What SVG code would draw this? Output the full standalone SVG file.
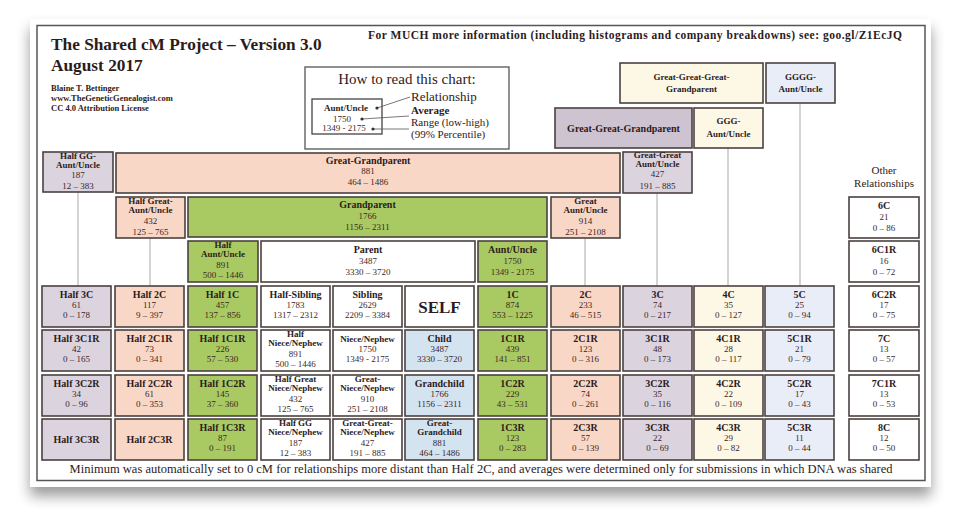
<svg xmlns="http://www.w3.org/2000/svg" width="959" height="524" viewBox="0 0 959 524">
<defs>
<filter id="sh" x="-5%" y="-5%" width="110%" height="125%">
<feGaussianBlur in="SourceAlpha" stdDeviation="7"/>
<feOffset dy="9"/>
<feComponentTransfer><feFuncA type="linear" slope="0.4"/></feComponentTransfer>
<feMerge><feMergeNode/><feMergeNode in="SourceGraphic"/></feMerge>
</filter>
<marker id="dot" markerWidth="4" markerHeight="4" refX="2" refY="2" markerUnits="userSpaceOnUse"><circle cx="2" cy="2" r="1.6" fill="#333"/></marker>
</defs>
<style>
.bx{stroke:#4b4040;stroke-width:1.6}
.lav{fill:#dbd4df}.sal{fill:#f8d7c7}.grn{fill:#a9ca62}.wht{fill:#fff}.blu{fill:#d4e3f0}.crm{fill:#fdf8e6}.ice{fill:#e9edf7}.ggp{fill:#cec4d1}
text{font-family:"Liberation Serif","Times New Roman",serif;text-anchor:middle;fill:#2d1b1b}
.st{text-anchor:start}
.l{font-size:10px;font-weight:bold}
.s{font-size:9px;font-weight:bold}
.n{font-size:9px;fill:#3e1f1f}
.cn line{stroke:#a8a8a8;stroke-width:1}
.lg line{stroke:#555;stroke-width:0.8}
</style>
<rect width="959" height="524" fill="#fff"/>
<rect x="30" y="19" width="901" height="468" fill="#fff" filter="url(#sh)"/>
<rect x="37" y="25.5" width="888" height="455" fill="none" stroke="#555" stroke-width="1.5"/>

<g id="title">
<text class="st" x="51" y="50" font-size="17.3" font-weight="bold">The Shared cM Project – Version 3.0</text>
<text class="st" x="51" y="71" font-size="17.3" font-weight="bold">August 2017</text>
<text class="st" x="51" y="91" font-size="8.5" font-weight="bold">Blaine T. Bettinger</text>
<text class="st" x="51" y="101" font-size="8.5" font-weight="bold">www.TheGeneticGenealogist.com</text>
<text class="st" x="51" y="111" font-size="8.5" font-weight="bold">CC 4.0 Attribution License</text>
<text class="st" x="368" y="39" font-size="11.5" font-weight="bold" textLength="534">For MUCH more information (including histograms and company breakdowns) see: goo.gl/Z1EcJQ</text>
</g>

<g id="legend">
<rect x="305" y="67" width="204" height="82" fill="#fff" stroke="#555" stroke-width="1.3"/>
<text x="407" y="84" font-size="15">How to read this chart:</text>
<rect x="312" y="99" width="70" height="35" fill="#fff" stroke="#444" stroke-width="1.3"/>
<text class="s" x="346" y="111">Aunt/Uncle</text>
<text class="n" x="342" y="122">1750</text>
<text class="n" x="344" y="131">1349 - 2175</text>
<g class="lg">
<line x1="377" y1="108" x2="410" y2="97" marker-start="url(#dot)"/>
<line x1="362" y1="119" x2="409" y2="116" marker-start="url(#dot)"/>
<line x1="373" y1="129" x2="409" y2="129" marker-start="url(#dot)"/>
</g>
<text class="st" x="411" y="101" font-size="13">Relationship</text>
<text class="st" x="411" y="114" font-size="11" font-weight="bold">Average</text>
<text class="st" x="411" y="126" font-size="11">Range (low-high)</text>
<text class="st" x="411" y="138" font-size="11">(99% Percentile)</text>
</g>

<g id="connectors" class="cn">
<line x1="78" y1="192" x2="78" y2="286"/>
<line x1="150" y1="238" x2="150" y2="286"/>
<line x1="585" y1="238" x2="585" y2="286"/>
<line x1="657" y1="193" x2="657" y2="286"/>
<line x1="728" y1="148" x2="728" y2="286"/>
<line x1="800" y1="103" x2="800" y2="286"/>
</g>

<g id="gggg-grandparent"><rect class="bx crm" x="620" y="63" width="143" height="40"/><text class="s" x="691.5" y="80" font-size="9.5">Great-Great-Great-</text><text class="s" x="691.5" y="92" font-size="9.5">Grandparent</text></g>
<g id="gggg-aunt"><rect class="bx ice" x="766" y="63" width="69" height="40"/><text class="s" x="800.5" y="80" font-size="9.5">GGGG-</text><text class="s" x="800.5" y="92" font-size="9.5">Aunt/Uncle</text></g>
<g id="ggg-grandparent"><rect class="bx ggp" x="555" y="108" width="137" height="40"/><text class="l" x="623.5" y="132" font-size="10.5">Great-Great-Grandparent</text></g>
<g id="ggg-aunt"><rect class="bx crm" x="694" y="108" width="69" height="40"/><text class="s" x="728.5" y="124" font-size="9.5">GGG-</text><text class="s" x="728.5" y="137" font-size="9.5">Aunt/Uncle</text></g>

<g id="half-gg-aunt"><rect class="bx lav" x="43" y="152" width="70" height="40"/><text class="s" x="78" y="159">Half GG-</text><text class="s" x="78" y="168">Aunt/Uncle</text><text class="n" x="78" y="178">187</text><text class="n" x="78" y="189">12 – 383</text></g>
<g id="great-grandparent"><rect class="bx sal" x="116" y="153" width="504" height="40"/><text class="l" x="368" y="164">Great-Grandparent</text><text class="n" x="368" y="174">881</text><text class="n" x="368" y="185">464 – 1486</text></g>
<g id="gg-aunt"><rect class="bx lav" x="623" y="152" width="69" height="41"/><text class="s" x="657.5" y="158">Great-Great</text><text class="s" x="657.5" y="167">Aunt/Uncle</text><text class="n" x="657.5" y="177">427</text><text class="n" x="657.5" y="189">191 – 885</text></g>

<g id="half-great-aunt"><rect class="bx sal" x="116" y="197" width="69" height="41"/><text class="s" x="150.5" y="204">Half Great-</text><text class="s" x="150.5" y="213">Aunt/Uncle</text><text class="n" x="150.5" y="224">432</text><text class="n" x="150.5" y="235">125 – 765</text></g>
<g id="grandparent"><rect class="bx grn" x="188" y="197" width="359" height="40"/><text class="l" x="367.5" y="208">Grandparent</text><text class="n" x="367.5" y="219">1766</text><text class="n" x="367.5" y="230">1156 – 2311</text></g>
<g id="great-aunt"><rect class="bx sal" x="551" y="197" width="69" height="41"/><text class="s" x="585.5" y="204">Great</text><text class="s" x="585.5" y="213">Aunt/Uncle</text><text class="n" x="585.5" y="224">914</text><text class="n" x="585.5" y="235">251 – 2108</text></g>

<g id="half-aunt"><rect class="bx grn" x="188" y="241" width="70" height="41"/><text class="s" x="223" y="248">Half</text><text class="s" x="223" y="257">Aunt/Uncle</text><text class="n" x="223" y="268">891</text><text class="n" x="223" y="278">500 – 1446</text></g>
<g id="parent"><rect class="bx wht" x="261" y="241" width="214" height="41"/><text class="l" x="368" y="253">Parent</text><text class="n" x="368" y="264">3487</text><text class="n" x="368" y="275">3330 – 3720</text></g>
<g id="aunt"><rect class="bx grn" x="478" y="241" width="69" height="41"/><text class="l" x="512.5" y="253">Aunt/Uncle</text><text class="n" x="512.5" y="264">1750</text><text class="n" x="512.5" y="275">1349 - 2175</text></g>

<g id="other-header"><text x="884" y="174" font-size="11">Other</text><text x="884" y="187" font-size="11">Relationships</text></g>
<g id="c6"><rect class="bx wht" x="849" y="197" width="70" height="41"/><text class="l" x="884" y="209">6C</text><text class="n" x="884" y="220">21</text><text class="n" x="884" y="231">0 – 86</text></g>
<g id="c6r1"><rect class="bx wht" x="849" y="241" width="70" height="41"/><text class="l" x="884" y="253">6C1R</text><text class="n" x="884" y="264">16</text><text class="n" x="884" y="275">0 – 72</text></g>

<g id="half3c"><rect class="bx lav" x="42" y="286" width="69" height="41"/><text class="l" x="76.5" y="298">Half 3C</text><text class="n" x="76.5" y="308">61</text><text class="n" x="76.5" y="318">0 – 178</text></g>
<g id="half2c"><rect class="bx sal" x="115" y="286" width="69" height="41"/><text class="l" x="149.5" y="298">Half 2C</text><text class="n" x="149.5" y="308">117</text><text class="n" x="149.5" y="318">9 – 397</text></g>
<g id="half1c"><rect class="bx grn" x="188" y="286" width="69" height="41"/><text class="l" x="222.5" y="298">Half 1C</text><text class="n" x="222.5" y="308">457</text><text class="n" x="222.5" y="318">137 – 856</text></g>
<g id="half-sibling"><rect class="bx wht" x="261" y="286" width="69" height="41"/><text class="l" x="295.5" y="298">Half-Sibling</text><text class="n" x="295.5" y="308">1783</text><text class="n" x="295.5" y="318">1317 – 2312</text></g>
<g id="sibling"><rect class="bx wht" x="333" y="286" width="69" height="41"/><text class="l" x="367.5" y="298">Sibling</text><text class="n" x="367.5" y="308">2629</text><text class="n" x="367.5" y="318">2209 – 3384</text></g>
<g id="self"><rect class="bx wht" x="405" y="286" width="69" height="41"/><text x="439.5" y="313" font-family="Liberation Sans, Arial, sans-serif" font-size="17" font-weight="bold" fill="#111">SELF</text></g>
<g id="c1"><rect class="bx grn" x="478" y="286" width="69" height="41"/><text class="l" x="512.5" y="298">1C</text><text class="n" x="512.5" y="308">874</text><text class="n" x="512.5" y="318">553 – 1225</text></g>
<g id="c2"><rect class="bx sal" x="551" y="286" width="69" height="41"/><text class="l" x="585.5" y="298">2C</text><text class="n" x="585.5" y="308">233</text><text class="n" x="585.5" y="318">46 – 515</text></g>
<g id="c3"><rect class="bx lav" x="623" y="286" width="69" height="41"/><text class="l" x="657.5" y="298">3C</text><text class="n" x="657.5" y="308">74</text><text class="n" x="657.5" y="318">0 – 217</text></g>
<g id="c4"><rect class="bx crm" x="694" y="286" width="69" height="41"/><text class="l" x="728.5" y="298">4C</text><text class="n" x="728.5" y="308">35</text><text class="n" x="728.5" y="318">0 – 127</text></g>
<g id="c5"><rect class="bx ice" x="765" y="286" width="69" height="41"/><text class="l" x="799.5" y="298">5C</text><text class="n" x="799.5" y="308">25</text><text class="n" x="799.5" y="318">0 – 94</text></g>
<g id="c6r2"><rect class="bx wht" x="849" y="286" width="70" height="41"/><text class="l" x="884" y="298">6C2R</text><text class="n" x="884" y="308">17</text><text class="n" x="884" y="318">0 – 75</text></g>

<g id="half3c1r"><rect class="bx lav" x="42" y="330" width="69" height="41"/><text class="l" x="76.5" y="342">Half 3C1R</text><text class="n" x="76.5" y="352">42</text><text class="n" x="76.5" y="362">0 – 165</text></g>
<g id="half2c1r"><rect class="bx sal" x="115" y="330" width="69" height="41"/><text class="l" x="149.5" y="342">Half 2C1R</text><text class="n" x="149.5" y="352">73</text><text class="n" x="149.5" y="362">0 – 341</text></g>
<g id="half1c1r"><rect class="bx grn" x="188" y="330" width="69" height="41"/><text class="l" x="222.5" y="342">Half 1C1R</text><text class="n" x="222.5" y="352">226</text><text class="n" x="222.5" y="362">57 – 530</text></g>
<g id="half-niece"><rect class="bx wht" x="261" y="330" width="69" height="41"/><text class="s" x="295.5" y="337">Half</text><text class="s" x="295.5" y="346">Niece/Nephew</text><text class="n" x="295.5" y="357">891</text><text class="n" x="295.5" y="367">500 – 1446</text></g>
<g id="niece"><rect class="bx wht" x="333" y="330" width="69" height="41"/><text class="s" x="367.5" y="342">Niece/Nephew</text><text class="n" x="367.5" y="352">1750</text><text class="n" x="367.5" y="362">1349 - 2175</text></g>
<g id="child"><rect class="bx blu" x="405" y="330" width="69" height="41"/><text class="l" x="439.5" y="342">Child</text><text class="n" x="439.5" y="352">3487</text><text class="n" x="439.5" y="362">3330 – 3720</text></g>
<g id="c1r1"><rect class="bx grn" x="478" y="330" width="69" height="41"/><text class="l" x="512.5" y="342">1C1R</text><text class="n" x="512.5" y="352">439</text><text class="n" x="512.5" y="362">141 – 851</text></g>
<g id="c2r1"><rect class="bx sal" x="551" y="330" width="69" height="41"/><text class="l" x="585.5" y="342">2C1R</text><text class="n" x="585.5" y="352">123</text><text class="n" x="585.5" y="362">0 – 316</text></g>
<g id="c3r1"><rect class="bx lav" x="623" y="330" width="69" height="41"/><text class="l" x="657.5" y="342">3C1R</text><text class="n" x="657.5" y="352">48</text><text class="n" x="657.5" y="362">0 – 173</text></g>
<g id="c4r1"><rect class="bx crm" x="694" y="330" width="69" height="41"/><text class="l" x="728.5" y="342">4C1R</text><text class="n" x="728.5" y="352">28</text><text class="n" x="728.5" y="362">0 – 117</text></g>
<g id="c5r1"><rect class="bx ice" x="765" y="330" width="69" height="41"/><text class="l" x="799.5" y="342">5C1R</text><text class="n" x="799.5" y="352">21</text><text class="n" x="799.5" y="362">0 – 79</text></g>
<g id="c7"><rect class="bx wht" x="849" y="330" width="70" height="41"/><text class="l" x="884" y="342">7C</text><text class="n" x="884" y="352">13</text><text class="n" x="884" y="362">0 – 57</text></g>

<g id="half3c2r"><rect class="bx lav" x="42" y="375" width="69" height="41"/><text class="l" x="76.5" y="387">Half 3C2R</text><text class="n" x="76.5" y="397">34</text><text class="n" x="76.5" y="407">0 – 96</text></g>
<g id="half2c2r"><rect class="bx sal" x="115" y="375" width="69" height="41"/><text class="l" x="149.5" y="387">Half 2C2R</text><text class="n" x="149.5" y="397">61</text><text class="n" x="149.5" y="407">0 – 353</text></g>
<g id="half1c2r"><rect class="bx grn" x="188" y="375" width="69" height="41"/><text class="l" x="222.5" y="387">Half 1C2R</text><text class="n" x="222.5" y="397">145</text><text class="n" x="222.5" y="407">37 – 360</text></g>
<g id="half-great-niece"><rect class="bx wht" x="261" y="375" width="69" height="41"/><text class="s" x="295.5" y="382">Half Great</text><text class="s" x="295.5" y="391">Niece/Nephew</text><text class="n" x="295.5" y="402">432</text><text class="n" x="295.5" y="412">125 – 765</text></g>
<g id="great-niece"><rect class="bx wht" x="333" y="375" width="69" height="41"/><text class="s" x="367.5" y="382">Great-</text><text class="s" x="367.5" y="391">Niece/Nephew</text><text class="n" x="367.5" y="402">910</text><text class="n" x="367.5" y="412">251 – 2108</text></g>
<g id="grandchild"><rect class="bx blu" x="405" y="375" width="69" height="41"/><text class="l" x="439.5" y="387">Grandchild</text><text class="n" x="439.5" y="397">1766</text><text class="n" x="439.5" y="407">1156 – 2311</text></g>
<g id="c1r2"><rect class="bx grn" x="478" y="375" width="69" height="41"/><text class="l" x="512.5" y="387">1C2R</text><text class="n" x="512.5" y="397">229</text><text class="n" x="512.5" y="407">43 – 531</text></g>
<g id="c2r2"><rect class="bx sal" x="551" y="375" width="69" height="41"/><text class="l" x="585.5" y="387">2C2R</text><text class="n" x="585.5" y="397">74</text><text class="n" x="585.5" y="407">0 – 261</text></g>
<g id="c3r2"><rect class="bx lav" x="623" y="375" width="69" height="41"/><text class="l" x="657.5" y="387">3C2R</text><text class="n" x="657.5" y="397">35</text><text class="n" x="657.5" y="407">0 – 116</text></g>
<g id="c4r2"><rect class="bx crm" x="694" y="375" width="69" height="41"/><text class="l" x="728.5" y="387">4C2R</text><text class="n" x="728.5" y="397">22</text><text class="n" x="728.5" y="407">0 – 109</text></g>
<g id="c5r2"><rect class="bx ice" x="765" y="375" width="69" height="41"/><text class="l" x="799.5" y="387">5C2R</text><text class="n" x="799.5" y="397">17</text><text class="n" x="799.5" y="407">0 – 43</text></g>
<g id="c7r1"><rect class="bx wht" x="849" y="375" width="70" height="41"/><text class="l" x="884" y="387">7C1R</text><text class="n" x="884" y="397">13</text><text class="n" x="884" y="407">0 – 53</text></g>

<g id="half3c3r"><rect class="bx lav" x="42" y="419" width="69" height="41"/><text class="l" x="76.5" y="443">Half 3C3R</text></g>
<g id="half2c3r"><rect class="bx sal" x="115" y="419" width="69" height="41"/><text class="l" x="149.5" y="443">Half 2C3R</text></g>
<g id="half1c3r"><rect class="bx grn" x="188" y="419" width="69" height="41"/><text class="l" x="222.5" y="431">Half 1C3R</text><text class="n" x="222.5" y="441">87</text><text class="n" x="222.5" y="451">0 – 191</text></g>
<g id="half-gg-niece"><rect class="bx wht" x="261" y="419" width="69" height="41"/><text class="s" x="295.5" y="426">Half GG</text><text class="s" x="295.5" y="435">Niece/Nephew</text><text class="n" x="295.5" y="446">187</text><text class="n" x="295.5" y="456">12 – 383</text></g>
<g id="gg-niece"><rect class="bx wht" x="333" y="419" width="69" height="41"/><text class="s" x="367.5" y="426">Great-Great-</text><text class="s" x="367.5" y="435">Niece/Nephew</text><text class="n" x="367.5" y="446">427</text><text class="n" x="367.5" y="456">191 – 885</text></g>
<g id="great-grandchild"><rect class="bx blu" x="405" y="419" width="69" height="41"/><text class="s" x="439.5" y="426">Great-</text><text class="s" x="439.5" y="435">Grandchild</text><text class="n" x="439.5" y="446">881</text><text class="n" x="439.5" y="456">464 – 1486</text></g>
<g id="c1r3"><rect class="bx grn" x="478" y="419" width="69" height="41"/><text class="l" x="512.5" y="431">1C3R</text><text class="n" x="512.5" y="441">123</text><text class="n" x="512.5" y="451">0 – 283</text></g>
<g id="c2r3"><rect class="bx sal" x="551" y="419" width="69" height="41"/><text class="l" x="585.5" y="431">2C3R</text><text class="n" x="585.5" y="441">57</text><text class="n" x="585.5" y="451">0 – 139</text></g>
<g id="c3r3"><rect class="bx lav" x="623" y="419" width="69" height="41"/><text class="l" x="657.5" y="431">3C3R</text><text class="n" x="657.5" y="441">22</text><text class="n" x="657.5" y="451">0 – 69</text></g>
<g id="c4r3"><rect class="bx crm" x="694" y="419" width="69" height="41"/><text class="l" x="728.5" y="431">4C3R</text><text class="n" x="728.5" y="441">29</text><text class="n" x="728.5" y="451">0 – 82</text></g>
<g id="c5r3"><rect class="bx ice" x="765" y="419" width="69" height="41"/><text class="l" x="799.5" y="431">5C3R</text><text class="n" x="799.5" y="441">11</text><text class="n" x="799.5" y="451">0 – 44</text></g>
<g id="c8"><rect class="bx wht" x="849" y="419" width="70" height="41"/><text class="l" x="884" y="431">8C</text><text class="n" x="884" y="441">12</text><text class="n" x="884" y="451">0 – 50</text></g>

<g id="footer"><text x="481" y="473" font-size="12.5" fill="#222" textLength="823">Minimum was automatically set to 0 cM for relationships more distant than Half 2C, and averages were determined only for submissions in which DNA was shared</text></g>
</svg>
